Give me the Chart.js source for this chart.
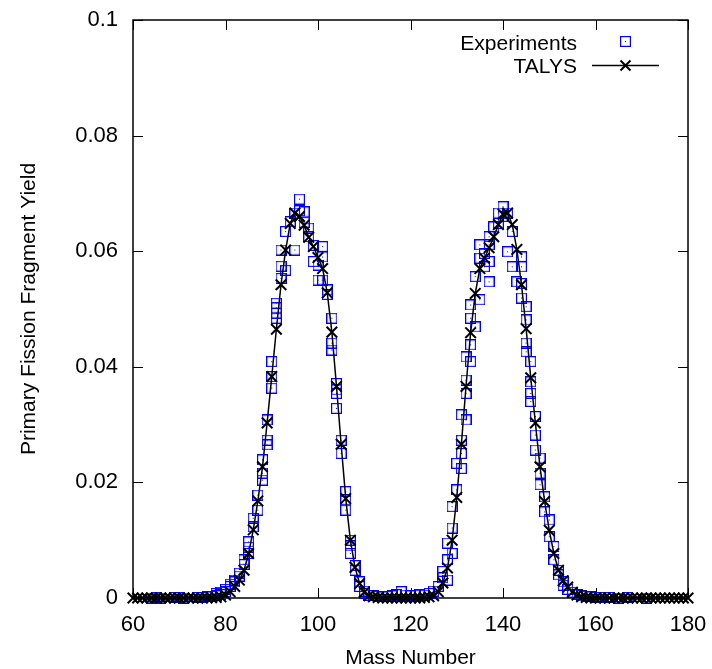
<!DOCTYPE html>
<html>
<head>
<meta charset="utf-8">
<title>Primary fission fragment yield</title>
<script src="https://cdn.jsdelivr.net/npm/chart.js@4.4.0/dist/chart.umd.min.js"></script>
<style>
  html, body { margin: 0; padding: 0; background: #fff; }
</style>
</head>
<body>
<canvas id="yield-chart" width="712" height="669"></canvas>
<script>
// TALYS calculation, one value per mass number 60..180
const talysMass = Array.from({ length: 121 }, (_, i) => 60 + i);
const talysYield = [
  0, 0, 0, 0, 0, 0, 0, 0, 0, 0, 0, 0, 0, 0, 0, 0, 0,           // 60-76
  0.00005, 0.0001, 0.0002, 0.0005, 0.0011, 0.0020, 0.0031,       // 77-83
  0.0048, 0.0077, 0.0118, 0.0168, 0.0227, 0.0303, 0.0383,       // 84-90
  0.0465, 0.0542, 0.0602, 0.0648, 0.0666, 0.0660, 0.0645,       // 91-97
  0.0624, 0.0608, 0.0589, 0.0570, 0.0528, 0.0460, 0.0366,       // 98-104
  0.0266, 0.0172, 0.0100, 0.0053, 0.0025, 0.0010, 0.0004,       // 105-111
  0.0002, 0.0001,                                               // 112-113
  0, 0, 0, 0, 0, 0, 0, 0, 0,                                    // 114-122
  0.0001, 0.0002, 0.0004, 0.0011, 0.0026, 0.0052, 0.0100,       // 123-129
  0.0174, 0.0266, 0.0366, 0.0459, 0.0527, 0.0570, 0.0588,       // 130-136
  0.0606, 0.0625, 0.0646, 0.0664, 0.0666, 0.0646, 0.0603,       // 137-143
  0.0542, 0.0466, 0.0381, 0.0303, 0.0227, 0.0167, 0.0117,       // 144-150
  0.0077, 0.0048, 0.0030, 0.0019, 0.0010, 0.0005, 0.0002,       // 151-157
  0.0001,                                                       // 158
  0, 0, 0, 0, 0, 0, 0, 0, 0, 0, 0, 0, 0, 0, 0, 0, 0, 0, 0, 0, 0, 0  // 159-180
];

// experimental points (several data sets, so some masses repeat)
const expMass = [
  64, 65, 66, 69, 70, 71, 74, 75, 76, 77, 78, 78, 79, 79, 80, 80,
  81, 81, 82, 82, 83, 83, 84, 84, 85, 85, 85, 86, 86, 87, 87,
  88, 88, 88, 89, 89, 89, 90, 90, 90, 91, 91, 91, 91,
  92, 92, 92, 93, 93, 94, 95, 95, 96, 96, 97, 97, 98, 98,
  99, 99, 100, 100, 101, 101, 101, 102, 102, 103, 103, 103,
  104, 104, 104, 104, 105, 105, 106, 106, 106, 107, 107, 107,
  108, 108, 109, 109, 110, 110, 111, 112, 113, 114, 115, 116,
  117, 118, 119, 120, 121, 122, 123, 124, 125, 126, 127, 127,
  128, 128, 128, 129, 129, 129, 130, 130, 131, 131, 131, 131,
  132, 132, 132, 132, 133, 133, 133, 133, 134, 134, 135, 135, 135,
  136, 136, 137, 137, 137, 137, 138, 139, 139, 140, 140, 141, 141,
  142, 142, 143, 144, 144, 144, 144, 145, 145, 145, 145,
  146, 146, 146, 146, 147, 147, 147, 148, 148, 148, 149, 149,
  150, 150, 151, 151, 152, 152, 153, 153, 154, 155, 156, 157,
  158, 159, 160, 161, 163, 165, 167, 171
];
const expYield = [
  0.0000, 0.0001, 0.0000, 0.0001, 0.0001, 0.0000, 0.0001, 0.0001, 0.0002, 0.0003, 0.0004, 0.0008, 0.0006, 0.0010, 0.0011, 0.0015,
  0.0020, 0.0024, 0.0031, 0.0028, 0.0043, 0.0038, 0.0066, 0.0058, 0.0097, 0.0077, 0.0088, 0.0138, 0.0123, 0.0178, 0.0152,
  0.0239, 0.0216, 0.0204, 0.0308, 0.0273, 0.0265, 0.0409, 0.0383, 0.0363, 0.0510, 0.0502, 0.0493, 0.0484,
  0.0602, 0.0574, 0.0553, 0.0634, 0.0567, 0.0651, 0.0666, 0.0602, 0.0690, 0.0670, 0.0668, 0.0650, 0.0640, 0.0625,
  0.0610, 0.0582, 0.0576, 0.0550, 0.0608, 0.0590, 0.0550, 0.0533, 0.0525, 0.0484, 0.0441, 0.0429,
  0.0371, 0.0360, 0.0354, 0.0328, 0.0273, 0.0250, 0.0184, 0.0170, 0.0152, 0.0100, 0.0090, 0.0077,
  0.0056, 0.0048, 0.0028, 0.0020, 0.0012, 0.0008, 0.0005, 0.0004, 0.0003, 0.0002, 0.0003, 0.0004,
  0.0006, 0.0011, 0.0005, 0.0004, 0.0005, 0.0006, 0.0005, 0.0008, 0.0012, 0.0020, 0.0046, 0.0035,
  0.0066, 0.0031, 0.0095, 0.0121, 0.0077, 0.0158, 0.0187, 0.0233, 0.0317, 0.0273, 0.0250, 0.0224,
  0.0417, 0.0377, 0.0354, 0.0308, 0.0507, 0.0484, 0.0438, 0.0409, 0.0556, 0.0469, 0.0611, 0.0588, 0.0516,
  0.0596, 0.0573, 0.0625, 0.0611, 0.0582, 0.0547, 0.0642, 0.0648, 0.0666, 0.0677, 0.0660, 0.0666, 0.0599,
  0.0634, 0.0573, 0.0547, 0.0590, 0.0573, 0.0544, 0.0519, 0.0504, 0.0481, 0.0441, 0.0426,
  0.0409, 0.0374, 0.0354, 0.0340, 0.0314, 0.0282, 0.0256, 0.0242, 0.0216, 0.0196, 0.0175, 0.0149,
  0.0135, 0.0106, 0.0089, 0.0066, 0.0048, 0.0040, 0.0028, 0.0022, 0.0015, 0.0010, 0.0006, 0.0004,
  0.0003, 0.0002, 0.0001, 0.0001, 0.0001, 0.0000, 0.0001, 0.0000
];

const xTickLabels = ["60", "80", "100", "120", "140", "160", "180"];
const yTickLabels = ["0", "0.02", "0.04", "0.06", "0.08", "0.1"];

const FONT = "'Liberation Sans', Arial, sans-serif";
const BLUE = "#0000ff";

// gnuplot-like boxed dot marker
function boxedDot(size) {
  const c = document.createElement("canvas");
  c.width = size; c.height = size;
  const g = c.getContext("2d");
  g.strokeStyle = BLUE;
  g.lineWidth = 1.2;
  g.strokeRect(0.6, 0.6, size - 1.2, size - 1.2);
  g.fillStyle = BLUE;
  g.fillRect(Math.floor(size / 2), Math.floor(size / 2), 1, 1);
  return c;
}
const boxMarker = boxedDot(11);

// inward ticks on all four sides + frame
const framePlugin = {
  id: "frame",
  beforeDatasetsDraw(chart) {
    const { ctx, chartArea: a, scales: { x, y } } = chart;
    ctx.save();
    ctx.strokeStyle = "#000";
    ctx.lineWidth = 1;
    ctx.beginPath();
    x.ticks.forEach(t => {
      const px = Math.round(x.getPixelForValue(t.value)) + 0.5;
      ctx.moveTo(px, a.bottom); ctx.lineTo(px, a.bottom - 10);
      ctx.moveTo(px, a.top); ctx.lineTo(px, a.top + 10);
    });
    y.ticks.forEach(t => {
      const py = Math.round(y.getPixelForValue(t.value)) + 0.5;
      ctx.moveTo(a.left, py); ctx.lineTo(a.left + 10, py);
      ctx.moveTo(a.right, py); ctx.lineTo(a.right - 10, py);
    });
    ctx.stroke();
    ctx.lineWidth = 1.5;
    ctx.strokeRect(a.left, a.top, a.right - a.left, a.bottom - a.top);
    ctx.restore();
  },
  afterDraw(chart) {
    const ctx = chart.ctx;
    ctx.save();
    ctx.font = "21px " + FONT;
    ctx.fillStyle = "#000";
    ctx.textAlign = "right";
    ctx.textBaseline = "alphabetic";
    ctx.fillText("Experiments", 577, 50);
    ctx.fillText("TALYS", 577, 73);
    ctx.drawImage(boxMarker, 620, 36);
    ctx.strokeStyle = "#000";
    ctx.lineWidth = 1.5;
    ctx.beginPath();
    ctx.moveTo(592, 65.5); ctx.lineTo(659, 65.5);
    ctx.stroke();
    ctx.lineWidth = 2;
    ctx.beginPath();
    ctx.moveTo(620.5, 60.5); ctx.lineTo(630.5, 70.5);
    ctx.moveTo(630.5, 60.5); ctx.lineTo(620.5, 70.5);
    ctx.stroke();
    ctx.restore();
  }
};

const data = {
  datasets: [
    {
      label: "TALYS",
      data: talysMass.map((m, i) => ({ x: m, y: talysYield[i] })),
      showLine: true,
      borderColor: "#000",
      backgroundColor: "#000",
      borderWidth: 1.5,
      tension: 0,
      pointStyle: "crossRot",
      pointRadius: 7.5,
      pointBorderWidth: 2,
      clip: false,
    },
    {
      label: "Experiments",
      data: expMass.map((m, i) => ({ x: m, y: expYield[i] })),
      showLine: false,
      pointStyle: boxMarker,
      pointRadius: 5.5,
      clip: false,
    },
  ],
};

const config = {
  type: "scatter",
  data: data,
  options: {
    responsive: false,
    animation: false,
    layout: { padding: { top: 20, right: 24, left: 0, bottom: 0 } },
    plugins: {
      legend: { display: false },
      tooltip: { enabled: false },
    },
    scales: {
      x: {
        type: "linear",
        min: 60,
        max: 180,
        afterFit: s => {
          s.height = 71;
          s.paddingLeft = 0; s.paddingRight = 0;
        },
        afterBuildTicks: s => { s.ticks = xTickLabels.map(v => ({ value: Number(v) })); },
        grid: { display: false, drawTicks: false },
        border: { display: false },
        ticks: {
          padding: 14,
          color: "#000",
          font: { family: FONT, size: 22 },
          callback: (v, i) => xTickLabels[i],
        },
        title: {
          display: true,
          text: "Mass Number",
          color: "#000",
          font: { family: FONT, size: 21, lineHeight: 1 },
          padding: 0,
        },
      },
      y: {
        type: "linear",
        min: 0,
        max: 0.1,
        afterFit: s => {
          s.width = 133;
          s.paddingTop = 0; s.paddingBottom = 0;
        },
        afterBuildTicks: s => { s.ticks = yTickLabels.map(v => ({ value: Number(v) })); },
        grid: { display: false, drawTicks: false },
        border: { display: false },
        ticks: {
          padding: 15,
          color: "#000",
          font: { family: FONT, size: 22 },
          callback: (v, i) => yTickLabels[i],
        },
        title: {
          display: true,
          text: "Primary Fission Fragment Yield",
          color: "#000",
          font: { family: FONT, size: 21, lineHeight: 1 },
          padding: { top: 19, bottom: 0 },
        },
      },
    },
  },
  plugins: [framePlugin],
};

const ctx = document.getElementById("yield-chart").getContext("2d");
const myChart = new Chart(ctx, config);
</script>
</body>
</html>
